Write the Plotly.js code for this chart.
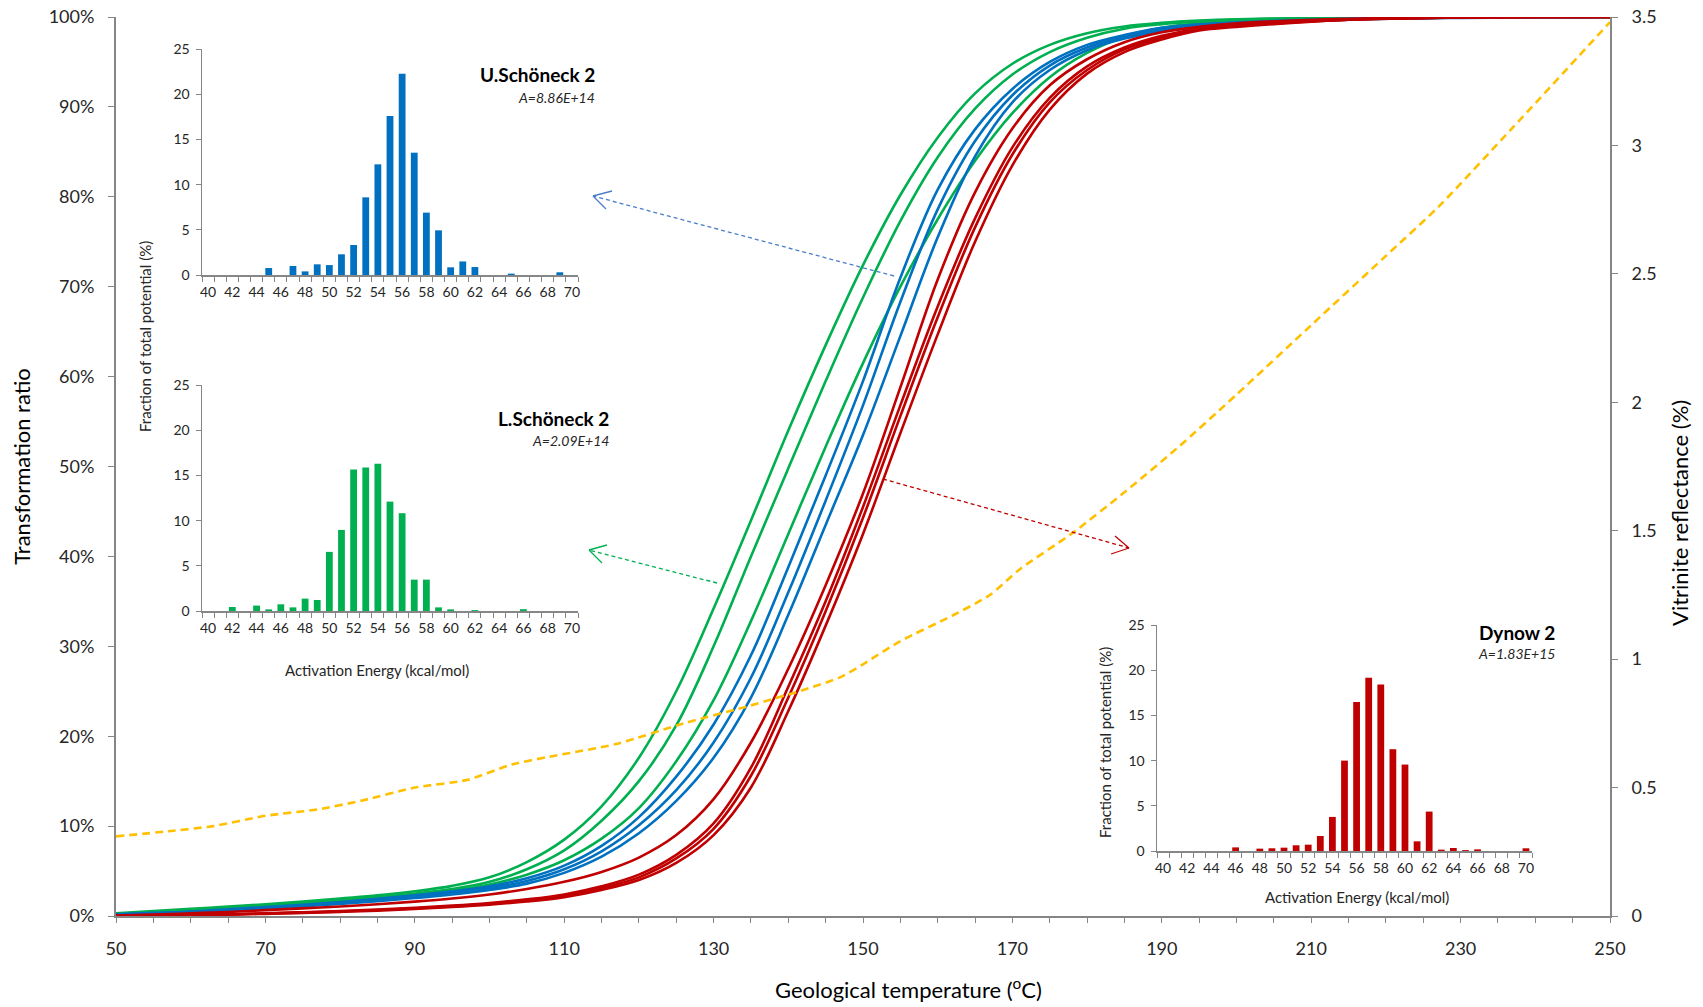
<!DOCTYPE html>
<html><head><meta charset="utf-8">
<script src="https://cdn.plot.ly/plotly-3.0.1.min.js"></script>
<style>html,body{margin:0;padding:0;background:#fff;} #chart{width:1703px;height:1007px;}</style>
</head><body><div id="chart"></div>
<script>
// ---------- main chart data (transformation ratio, %) ----------
const temperature = [50,55,60,65,70,75,80,85,90,95,100,105,110,115,120,125,130,135,140,145,150,155,160,165,170,175,180,185,190,195,200,215,230,250];
const lSchoneckRun1 = [0.3,0.55,0.8,1.05,1.3,1.6,1.95,2.3,2.75,3.35,4.3,6.0,8.5,12.2,17.6,25.0,34.2,44.0,54.0,63.5,72.4,80.2,86.6,91.5,94.8,96.9,98.2,98.95,99.35,99.6,99.75,99.95,100,100];
const lSchoneckRun2 = [0.25,0.45,0.7,0.9,1.15,1.4,1.75,2.1,2.5,3.0,3.8,5.2,7.3,10.6,15.0,21.2,30.0,40.0,49.8,59.5,68.8,77.3,84.4,89.8,93.6,96.1,97.7,98.7,99.2,99.5,99.7,99.9,100,100];
const lSchoneckRun3 = [0.2,0.4,0.6,0.8,1.05,1.3,1.6,1.95,2.35,2.85,3.5,4.6,6.2,8.6,12.0,17.2,24.0,32.8,42.5,52.2,61.5,70.0,77.5,84.0,89.3,93.3,96.0,97.8,98.8,99.3,99.5,99.85,99.95,100];
const uSchoneckRun1 = [0.2,0.35,0.5,0.75,1.0,1.25,1.55,1.9,2.3,2.75,3.3,4.2,5.6,7.8,11.0,15.5,21.3,29.0,38.8,49.0,59.5,71.0,80.8,87.5,92.0,95.0,96.9,98.0,98.8,99.2,99.4,99.8,99.95,100];
const uSchoneckRun2 = [0.15,0.3,0.45,0.65,0.9,1.15,1.45,1.8,2.2,2.6,3.1,3.9,5.2,7.2,10.1,14.0,19.3,26.5,36.0,46.2,56.8,68.3,78.6,86.2,91.3,94.6,96.6,97.8,98.6,99.1,99.3,99.75,99.95,100];
const uSchoneckRun3 = [0.1,0.25,0.4,0.6,0.8,1.05,1.35,1.65,2.0,2.4,2.9,3.6,4.8,6.6,9.2,12.8,17.6,24.3,33.5,43.5,53.5,64.5,75.5,84.5,90.5,94.1,96.3,97.6,98.4,98.9,99.2,99.7,99.9,100];
const dynowRun1 = [0.05,0.15,0.3,0.45,0.65,0.85,1.05,1.3,1.6,1.95,2.4,3.0,3.8,4.9,6.5,9.0,13.0,19.3,27.5,36.8,47.0,58.8,70.8,80.5,87.6,92.4,95.3,97.2,98.3,98.9,99.3,99.8,99.95,100];
const dynowRun2 = [0,0.05,0.12,0.2,0.3,0.42,0.55,0.72,0.92,1.15,1.45,1.85,2.4,3.3,4.6,6.8,10.3,16.5,25.5,35.0,45.5,56.8,67.8,77.6,85.5,91.0,94.5,96.6,97.9,98.7,99.1,99.7,99.95,100];
const dynowRun3 = [0,0.04,0.1,0.17,0.27,0.38,0.5,0.66,0.85,1.07,1.35,1.72,2.25,3.1,4.3,6.4,9.7,15.6,24.3,33.9,44.3,55.6,66.6,76.6,84.7,90.5,94.1,96.4,97.7,98.6,99.0,99.7,99.95,100];
const dynowRun4 = [0,0.03,0.08,0.15,0.24,0.34,0.46,0.6,0.78,1.0,1.27,1.62,2.1,2.9,4.0,5.9,9.0,14.3,22.8,32.3,42.5,53.7,64.7,75.0,83.5,89.7,93.7,96.1,97.5,98.5,98.9,99.7,99.95,100];

// vitrinite reflectance (%), right axis
const vrTemperature = [50,57,63,70,77,83,90,97,103,108,117,126,135,142,147,150,155,162,167,171,178,185,192,200,210,220,227,237,250];
const vrReflectance = [0.31,0.33,0.35,0.39,0.415,0.45,0.50,0.53,0.59,0.62,0.67,0.75,0.82,0.88,0.93,0.98,1.07,1.17,1.25,1.35,1.49,1.65,1.82,2.03,2.30,2.57,2.76,3.07,3.48];

// ---------- inset histograms: activation energy distributions ----------
const activationEnergy = [40,41,42,43,44,45,46,47,48,49,50,51,52,53,54,55,56,57,58,59,60,61,62,63,64,65,66,67,68,69,70];
const uSchoneckFraction = [0,0,0,0,0,0.77,0,1.0,0.4,1.18,1.1,2.29,3.32,8.59,12.24,17.6,22.27,13.53,6.9,4.94,0.85,1.5,0.88,0,0,0.15,0,0,0,0.3,0];
const lSchoneckFraction = [0,0,0.44,0,0.6,0.18,0.74,0.4,1.37,1.22,6.54,8.97,15.66,15.88,16.29,12.1,10.82,3.47,3.47,0.4,0.18,0,0.1,0,0,0,0.2,0,0,0,0];
const dynowFraction = [0,0,0,0,0,0,0.4,0,0.26,0.3,0.37,0.63,0.7,1.66,3.77,10.0,16.47,19.17,18.43,11.26,9.56,1.07,4.36,0.15,0.33,0.1,0.18,0,0,0,0.3];
const energyTicks = [40,42,44,46,48,50,52,54,56,58,60,62,64,66,68,70];

const GREEN = '#00B050', BLUE = '#0070C0', RED = '#C00000', ORANGE = '#FFC000';
const AXIS = '#868686', TXT = '#262626', FONT = 'Lato, "Open Sans", sans-serif';

// pixel helpers for layout placement (plot area: x 116..1610, y 17..916)
const PL = 116, PR = 1610, PT = 17, PB = 916;
const px = v => (v - PL) / (PR - PL);
const py = v => (PB - v) / (PB - PT);

function curve(y, color, name) {
  return {x: temperature, y: y, type: 'scatter', mode: 'lines', name: name,
          line: {color: color, width: 2.6, shape: 'spline', smoothing: 1},
          xaxis: 'x', yaxis: 'y', hoverinfo: 'x+y'};
}
const traces = [
  curve(lSchoneckRun1, GREEN, 'L.Schöneck 2'),
  curve(lSchoneckRun2, GREEN, 'L.Schöneck 2'),
  curve(lSchoneckRun3, GREEN, 'L.Schöneck 2'),
  curve(uSchoneckRun1, BLUE, 'U.Schöneck 2'),
  curve(uSchoneckRun2, BLUE, 'U.Schöneck 2'),
  curve(uSchoneckRun3, BLUE, 'U.Schöneck 2'),
  curve(dynowRun1, RED, 'Dynow 2'),
  curve(dynowRun2, RED, 'Dynow 2'),
  curve(dynowRun3, RED, 'Dynow 2'),
  curve(dynowRun4, RED, 'Dynow 2'),
  {x: vrTemperature, y: vrReflectance, type: 'scatter', mode: 'lines', name: 'Vitrinite reflectance',
   line: {color: ORANGE, width: 2.6, dash: '8px,5px', shape: 'spline', smoothing: 0.7},
   xaxis: 'x', yaxis: 'y2'},
  {x: activationEnergy, y: uSchoneckFraction, type: 'bar', marker: {color: BLUE}, width: 0.56,
   xaxis: 'x3', yaxis: 'y3', name: 'U.Schöneck 2'},
  {x: activationEnergy, y: lSchoneckFraction, type: 'bar', marker: {color: GREEN}, width: 0.56,
   xaxis: 'x4', yaxis: 'y4', name: 'L.Schöneck 2'},
  {x: activationEnergy, y: dynowFraction, type: 'bar', marker: {color: RED}, width: 0.56,
   xaxis: 'x5', yaxis: 'y5', name: 'Dynow 2'}
];

function insetX(domain, anchor) {
  return {domain: domain, anchor: anchor, range: [39.5, 70.5], tickmode: 'array', tickvals: energyTicks,
          ticks: '', showline: true, linecolor: AXIS, linewidth: 1.5, showgrid: false, zeroline: false,
          minor: {ticks: 'outside', tick0: 39.5, dtick: 1, ticklen: 5, tickcolor: AXIS, tickwidth: 1, showgrid: false},
          tickfont: {family: FONT, size: 14, color: TXT}, ticklabelstandoff: 4, fixedrange: true};
}
function insetY(domain, anchor) {
  return {domain: domain, anchor: anchor, range: [0, 25], dtick: 5, ticks: 'outside', ticklen: 5,
          tickcolor: AXIS, showline: true, linecolor: AXIS, linewidth: 1.5, showgrid: false, zeroline: false,
          tickfont: {family: FONT, size: 14, color: TXT}, ticklabelstandoff: 3, fixedrange: true};
}

const blueX = [px(202), px(578)], blueY = [py(275), py(49)];
const greenX = [px(202), px(578)], greenY = [py(611), py(385)];
const redX = [px(1157), px(1532)], redY = [py(851), py(625)];

function label(x, y, text, opts) {
  return Object.assign({xref: 'paper', yref: 'paper', x: px(x), y: py(y), text: text, showarrow: false,
                        xanchor: 'center', yanchor: 'middle',
                        font: {family: FONT, size: 15, color: TXT}}, opts || {});
}
const TITLE_FONT = {family: FONT, size: 19, color: '#000'};
const A_FONT = {family: FONT, size: 14, color: TXT};
const AXIS_TITLE_FONT = {family: FONT, size: 22, color: '#000'};
const annotations = [
  // main axis titles placed where the reference shows them
  label(908, 989, 'Geological temperature (<sup>o</sup>C)', {font: AXIS_TITLE_FONT}),
  label(1679, 513, 'Vitrinite reflectance (%)', {textangle: -90, font: AXIS_TITLE_FONT}),
  // inset labels
  label(597, 74, '<b>U.Schöneck 2</b>', {xanchor: 'right', font: TITLE_FONT}),
  label(597, 97, '<i>A=8.86E+14</i>', {xanchor: 'right', font: A_FONT}),
  label(611, 419, '<b>L.Schöneck 2</b>', {xanchor: 'right', font: TITLE_FONT}),
  label(611, 440, '<i>A=2.09E+14</i>', {xanchor: 'right', font: A_FONT}),
  label(1557, 632, '<b>Dynow 2</b>', {xanchor: 'right', font: TITLE_FONT}),
  label(1557, 653, '<i>A=1.83E+15</i>', {xanchor: 'right', font: A_FONT}),
  label(145, 337, 'Fraction of total potential (%)', {textangle: -90}),
  label(377, 670, 'Activation Energy (kcal/mol)'),
  label(1105, 743, 'Fraction of total potential (%)', {textangle: -90}),
  label(1357, 897, 'Activation Energy (kcal/mol)')
];

function seg(x0, y0, x1, y1, color, dash) {
  return {type: 'line', xref: 'paper', yref: 'paper', x0: px(x0), y0: py(y0), x1: px(x1), y1: py(y1),
          line: {color: color, width: 1.3, dash: dash || 'solid'}};
}
const BLUE_A = '#4A7EC8', GREEN_A = '#00B050', RED_A = '#C00000';
const shapes = [
  seg(894, 276, 593, 196, BLUE_A, '4px,3px'),
  seg(593, 196, 612, 191, BLUE_A), seg(593, 196, 606, 209, BLUE_A),
  seg(717, 583, 589, 550, GREEN_A, '4px,3px'),
  seg(589, 550, 607, 545, GREEN_A), seg(589, 550, 602, 563, GREEN_A),
  seg(883, 479, 1129, 548, RED_A, '4px,3px'),
  seg(1129, 548, 1115, 536, RED_A), seg(1129, 548, 1111, 554, RED_A)
];

const layout = {
  width: 1703, height: 1007,
  margin: {l: PL, r: 1703 - PR, t: PT, b: 1007 - PB, autoexpand: false},
  paper_bgcolor: '#fff', plot_bgcolor: '#fff', showlegend: false,
  font: {family: FONT, color: TXT},
  xaxis: {range: [50, 250], tick0: 50, dtick: 20, ticks: 'outside', ticklen: 5, tickcolor: AXIS, tickwidth: 1,
          showline: true, linecolor: AXIS, linewidth: 2, showgrid: false, zeroline: false,
          minor: {ticks: 'outside', tick0: 50, dtick: 5, ticklen: 5, tickcolor: AXIS, showgrid: false},
          tickfont: {family: FONT, size: 18, color: TXT}, ticklabelstandoff: 10,
          automargin: false, fixedrange: true},
  yaxis: {range: [0, 100], dtick: 10, ticksuffix: '%', ticks: 'outside', ticklen: 6, tickcolor: AXIS,
          showline: true, linecolor: AXIS, linewidth: 2, showgrid: false, zeroline: false,
          tickfont: {family: FONT, size: 18, color: TXT}, ticklabelstandoff: 10,
          title: {text: 'Transformation ratio', font: AXIS_TITLE_FONT, standoff: 12},
          automargin: false, fixedrange: true},
  yaxis2: {overlaying: 'y', side: 'right', anchor: 'x', range: [0, 3.5], dtick: 0.5, ticks: 'outside', ticklen: 6,
           tickcolor: AXIS, showline: true, linecolor: AXIS, linewidth: 2, showgrid: false, zeroline: false,
           tickfont: {family: FONT, size: 18, color: TXT}, ticklabelstandoff: 10,
           automargin: false, fixedrange: true},
  xaxis3: insetX(blueX, 'y3'), yaxis3: insetY(blueY, 'x3'),
  xaxis4: insetX(greenX, 'y4'), yaxis4: insetY(greenY, 'x4'),
  xaxis5: insetX(redX, 'y5'), yaxis5: insetY(redY, 'x5'),
  annotations: annotations,
  shapes: shapes
};

Plotly.newPlot('chart', traces, layout, {staticPlot: true, displayModeBar: false});
</script>
</body></html>
